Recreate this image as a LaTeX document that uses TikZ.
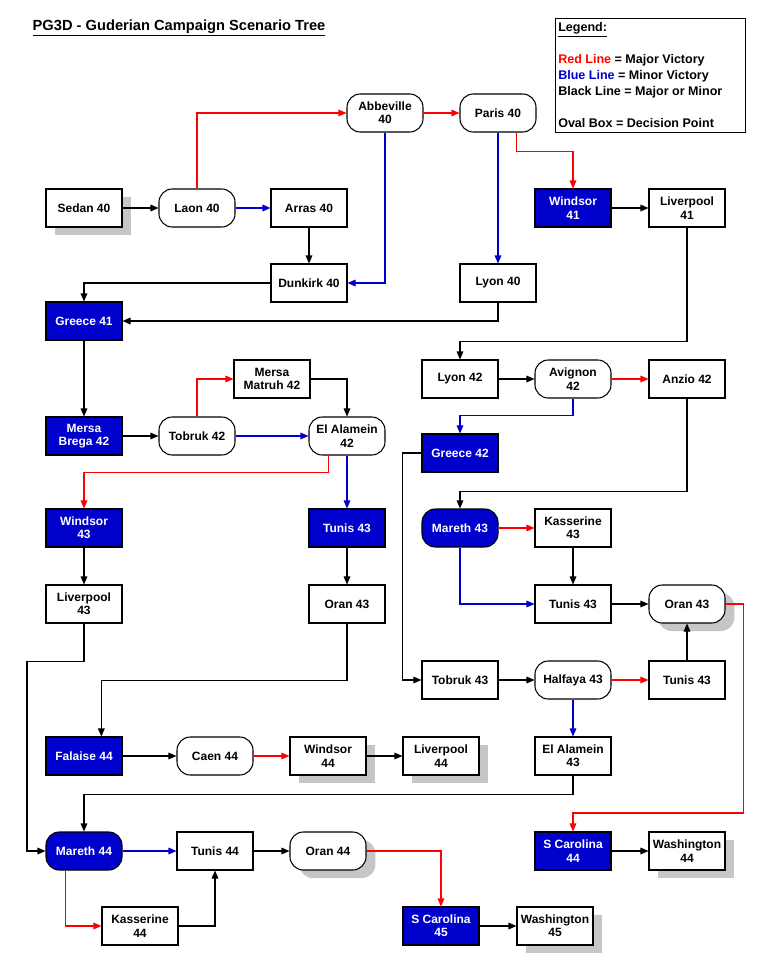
\documentclass[tikz,border=0pt]{standalone}
\usepackage{fontspec}
\setmainfont{Liberation Sans}
\usetikzlibrary{arrows.meta,shadows}
\definecolor{vblue}{HTML}{0000CC}
\tikzset{
  box/.style={draw, thick, fill=white, minimum width=57pt, minimum height=28.5pt, inner sep=1pt, align=center, font=\fontsize{9}{10}\selectfont\bfseries},
  oval/.style={box, rounded corners=10pt},
  win/.style={box, fill=vblue, text=white},
  shd/.style={drop shadow={shadow xshift=7pt, shadow yshift=-6pt, fill=gray!45, opacity=1}},
  con/.style={thick, -{Triangle[length=6pt,width=5pt]}},
  maj/.style={con, red},
  mnr/.style={con, vblue}
}
\begin{document}
\begin{tikzpicture}[x=0.75pt,y=-0.75pt]
\useasboundingbox (0,0) rectangle (771,960);
% title and legend
\node[anchor=west, font=\fontsize{11}{12}\selectfont\bfseries] (title) at (28,28) {\underline{PG3D - Guderian Campaign Scenario Tree}};
\draw (555,18) rectangle (745,132);
\node[anchor=north west, align=left, font=\fontsize{9.4}{12}\selectfont\bfseries, inner sep=0pt] (legend) at (558,22)
  {\underline{Legend:}\\[12pt]
   \textcolor{red}{Red Line} = Major Victory\\
   \textcolor{vblue}{Blue Line} = Minor Victory\\
   Black Line = Major or Minor\\[12pt]
   Oval Box = Decision Point};

% 1940
\node[box, shd] (sedan) at (84,208) {Sedan 40};
\node[oval] (laon) at (197,208) {Laon 40};
\node[box] (arras) at (309,208) {Arras 40};
\node[oval] (abbeville) at (385,113) {Abbeville\\40};
\node[oval] (paris) at (498,113) {Paris 40};
\node[box] (dunkirk) at (309,283) {Dunkirk 40};
\node[box] (lyonA) at (498,283) {Lyon 40};
\node[win] (windsorA) at (573,208) {Windsor\\41};
\node[box] (liverpoolA) at (687,208) {Liverpool\\41};
% 1941-42
\node[win] (greeceA) at (84,321) {Greece 41};
\node[box] (lyonB) at (460,379) {Lyon 42};
\node[oval] (avignon) at (573,379) {Avignon\\42};
\node[box] (anzio) at (687,379) {Anzio 42};
\node[box] (matruh) at (272,379) {Mersa\\Matruh 42};
\node[win] (brega) at (84,436) {Mersa\\Brega 42};
\node[oval] (tobrukA) at (197,436) {Tobruk 42};
\node[oval] (alameinA) at (347,436) {El Alamein\\42};
\node[win] (greeceB) at (460,453) {Greece 42};
% 1943
\node[win] (windsorB) at (84,528) {Windsor\\43};
\node[win] (tunisA) at (347,528) {Tunis 43};
\node[win, rounded corners=10pt] (marethA) at (460,528) {Mareth 43};
\node[box] (kasserineA) at (573,528) {Kasserine\\43};
\node[box] (liverpoolB) at (84,604) {Liverpool\\43};
\node[box] (oranA) at (347,604) {Oran 43};
\node[box] (tunisB) at (573,604) {Tunis 43};
\node[oval, shd] (oranB) at (687,604) {Oran 43};
\node[box] (tobrukB) at (460,680) {Tobruk 43};
\node[oval] (halfaya) at (573,680) {Halfaya 43};
\node[box] (tunisC) at (687,680) {Tunis 43};
% 1944-45
\node[win] (falaise) at (84,756) {Falaise 44};
\node[oval] (caen) at (215,756) {Caen 44};
\node[box, shd] (windsorC) at (328,756) {Windsor\\44};
\node[box, shd] (liverpoolC) at (441,756) {Liverpool\\44};
\node[box] (alameinB) at (573,756) {El Alamein\\43};
\node[win] (carolinaA) at (573,851) {S Carolina\\44};
\node[box, shd] (washingtonA) at (687,851) {Washington\\44};
\node[win, rounded corners=10pt] (marethB) at (84,851) {Mareth 44};
\node[box] (tunisD) at (215,851) {Tunis 44};
\node[oval, shd] (oranC) at (328,851) {Oran 44};
\node[box] (kasserineB) at (140,926) {Kasserine\\44};
\node[win] (carolinaB) at (441,926) {S Carolina\\45};
\node[box, shd] (washingtonB) at (555,926) {Washington\\45};

% connectors
\draw[con] (sedan) -- (laon);
\draw[mnr] (laon) -- (arras);
\draw[maj] (laon.north) |- (abbeville.west);
\draw[maj] (abbeville) -- (paris);
\draw[mnr] (abbeville.south) |- (dunkirk.east);
\draw[maj] ([xshift=14pt]paris.south) |- ++(0,19) -| (windsorA.north);
\draw[mnr] (paris) -- (lyonA);
\draw[con] (windsorA) -- (liverpoolA);
\draw[con] (arras) -- (dunkirk);
\draw[con] (dunkirk.west) -| (greeceA.north);
\draw[con] (lyonA.south) |- (greeceA.east);
\draw[con] (liverpoolA.south) |- ++(0,114) -| (lyonB.north);
\draw[con] (lyonB) -- (avignon);
\draw[maj] (avignon) -- (anzio);
\draw[mnr] (avignon.south) |- ++(0,17) -| (greeceB.north);
\draw[con] (greeceA) -- (brega);
\draw[con] (brega) -- (tobrukA);
\draw[maj] (tobrukA.north) |- (matruh.west);
\draw[mnr] (tobrukA) -- (alameinA);
\draw[con] (matruh.east) -| (alameinA.north);
\draw[maj] ([xshift=-14pt]alameinA.south) |- ++(0,17) -| (windsorB.north);
\draw[mnr] (alameinA) -- (tunisA);
\draw[con] (anzio.south) |- ++(0,93) -| (marethA.north);
\draw[con] (greeceB.west) -| ++(-19,0) |- (tobrukB.west);
\draw[maj] (marethA) -- (kasserineA);
\draw[con] (kasserineA) -- (tunisB);
\draw[mnr] (marethA.south) |- (tunisB.west);
\draw[con] (tunisB) -- (oranB);
\draw[con] (windsorB) -- (liverpoolB);
\draw[con] (tunisA) -- (oranA);
\draw[con] (tobrukB) -- (halfaya);
\draw[maj] (halfaya) -- (tunisC);
\draw[con] (tunisC) -- (oranB);
\draw[mnr] (halfaya) -- (alameinB);
\draw[maj] (oranB.east) -- ++(18,0) |- ++(0,209) -| (carolinaA.north);
\draw[con] (carolinaA) -- (washingtonA);
\draw[con] (oranA.south) |- ++(0,57) -| ([xshift=13pt]falaise.north);
\draw[con] (falaise) -- (caen);
\draw[maj] (caen) -- (windsorC);
\draw[con] (windsorC) -- (liverpoolC);
\draw[con] (liverpoolB.south) -- ++(0,38) -- ++(-57,0) |- (marethB.west);
\draw[con] (alameinB.south) |- ++(0,19) -| (marethB.north);
\draw[mnr] (marethB) -- (tunisD);
\draw[con] (tunisD) -- (oranC);
\draw[maj] ([xshift=-14pt]marethB.south) |- (kasserineB.west);
\draw[con] (kasserineB.east) -| (tunisD.south);
\draw[maj] (oranC.east) -| (carolinaB.north);
\draw[con] (carolinaB) -- (washingtonB);
\end{tikzpicture}
\end{document}
